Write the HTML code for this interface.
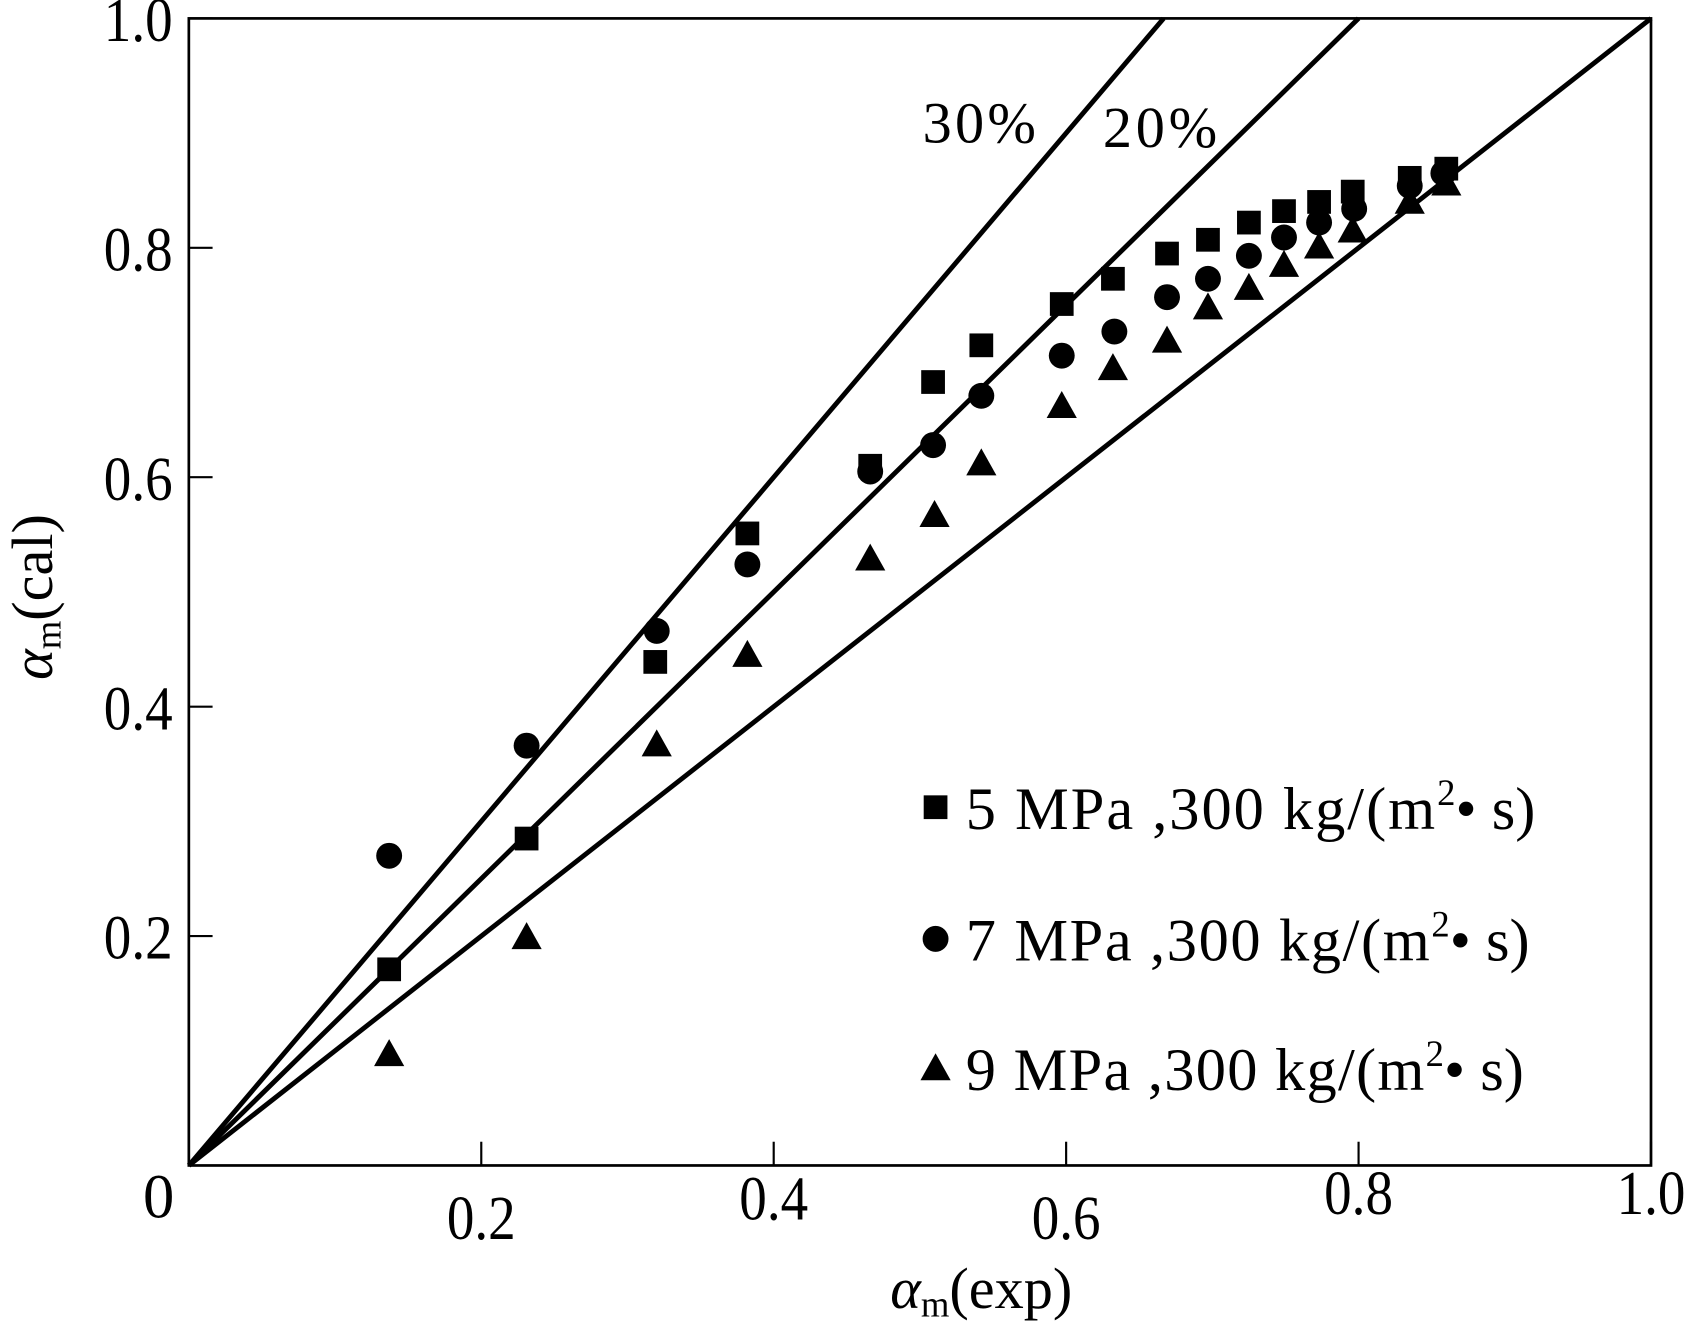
<!DOCTYPE html>
<html><head><meta charset="utf-8"><style>
html,body{margin:0;padding:0;background:#fff;}
svg{display:block;}
text{font-family:"Liberation Serif",serif;fill:#000;}
</style></head><body>
<svg id="chart" width="1692" height="1322" viewBox="0 0 1568 1225" xmlns="http://www.w3.org/2000/svg">
<g id="frame"></g><g id="lines"></g><g id="marks"></g><g id="labels"></g>
</svg>
<script>
const xTicks=[0.2,0.4,0.6,0.8,1.0];
const xTickLabels=["0.2","0.4","0.6","0.8","1.0"];
const yTicks=[0.2,0.4,0.6,0.8,1.0];
const yTickLabels=["0.2","0.4","0.6","0.8","1.0"];
const refSlopes=[1.5,1.25,1.0];
const refLabels=["30%","20%",""];
const exp5=[0.137,0.231,0.319,0.382,0.466,0.509,0.542,0.597,0.632,0.669,0.697,0.725,0.749,0.773,0.796,0.835,0.860];
const cal5=[0.171,0.285,0.439,0.551,0.610,0.683,0.715,0.751,0.773,0.795,0.807,0.822,0.832,0.840,0.849,0.861,0.869];
const exp7=[0.137,0.231,0.320,0.382,0.466,0.509,0.542,0.597,0.633,0.669,0.697,0.725,0.749,0.773,0.797,0.835,0.858];
const cal7=[0.270,0.366,0.466,0.524,0.605,0.628,0.671,0.706,0.727,0.757,0.773,0.793,0.809,0.822,0.834,0.854,0.865];
const exp9=[0.137,0.231,0.320,0.382,0.466,0.510,0.542,0.597,0.632,0.669,0.697,0.725,0.749,0.773,0.796,0.835,0.860];
const cal9=[0.097,0.199,0.367,0.445,0.529,0.567,0.612,0.662,0.695,0.719,0.748,0.765,0.785,0.801,0.815,0.840,0.856];

const NS="http://www.w3.org/2000/svg";
const L=175,R=1530,T=17,B=1080;
const sx=v=>L+v*(R-L), sy=v=>B-v*(B-T);
function mk(tag,attrs,parent){const e=document.createElementNS(NS,tag);for(const k in attrs)e.setAttribute(k,attrs[k]);document.getElementById(parent).appendChild(e);return e;}

let f=mk('rect',{x:L,y:T,width:R-L,height:B-T,fill:'none',stroke:'#000','stroke-width':2.5},'frame');


xTicks.forEach((t,i)=>{
  let tk=mk('line',{x1:sx(t),x2:sx(t),y1:B,y2:B-22,stroke:'#000','stroke-width':2},'frame');
  
  
  const base=[1148,1130,1148,1125,1125][i];
  let tx=mk('text',{x:sx(t),y:base,'font-size':58,'text-anchor':'middle',transform:`translate(${sx(t)},0) scale(0.88,1) translate(${-sx(t)},0)`},'labels');
  tx.textContent=xTickLabels[i];
  
  
});
yTicks.forEach((t,i)=>{
  let tk=mk('line',{x1:L,x2:L+22,y1:sy(t),y2:sy(t),stroke:'#000','stroke-width':2},'frame');
  
  
  let tx=mk('text',{x:160,y:sy(t)+21,'font-size':58,'text-anchor':'end',transform:`translate(160,0) scale(0.88,1) translate(-160,0)`},'labels');
  tx.textContent=yTickLabels[i];
  
  
});
let z=mk('text',{x:147,y:1128,'font-size':58,'text-anchor':'middle'},'labels');
z.textContent='0';



refSlopes.forEach((s,i)=>{
  const xe=Math.min(1,1/s);
  let ln=mk('line',{x1:sx(0),y1:sy(0),x2:sx(xe),y2:sy(xe*s),stroke:'#000','stroke-width':4.5},'lines');
  
  
});
let l30=mk('text',{x:855,y:132,'font-size':54,textLength:105},'labels');l30.textContent='30%';


let l20=mk('text',{x:1022,y:136,'font-size':54,textLength:106},'labels');l20.textContent='20%';



function square(cx,cy){return mk('rect',{x:cx-11,y:cy-11,width:22,height:22,fill:'#000'},'marks');}
function circle(cx,cy){return mk('circle',{cx:cx,cy:cy,r:12,fill:'#000'},'marks');}
function tri(cx,cy){return mk('polygon',{points:`${cx},${cy-14} ${cx-14},${cy+11} ${cx+14},${cy+11}`,fill:'#000'},'marks');}
exp5.forEach((v,i)=>{const e=square(sx(v),sy(cal5[i]));
  
  });
exp7.forEach((v,i)=>{const e=circle(sx(v),sy(cal7[i]));
  
  });
exp9.forEach((v,i)=>{const e=tri(sx(v),sy(cal9[i]));
  
  });

const legY=[748,870,990];
const legTxt=['5 MPa ,300 kg/(m','7 MPa ,300 kg/(m','9 MPa ,300 kg/(m'];
const legEnd=[1440,1435,1430];
const legFn=[square,circle,tri];
legY.forEach((y,i)=>{
  const m=legFn[i](867,y);
  
  
  const t=mk('text',{x:895,y:y+20,'font-size':56},'labels');
  const a=document.createElementNS(NS,'tspan');a.textContent=legTxt[i];a.setAttribute('textLength',legEnd[i]-895-110);t.appendChild(a);
  const b=document.createElementNS(NS,'tspan');b.textContent='2';b.setAttribute('font-size','34');b.setAttribute('dy','-22');t.appendChild(b);
  const c=document.createElementNS(NS,'tspan');c.textContent='• s)';c.setAttribute('dy','22');t.appendChild(c);
  
  
});

let xt=mk('text',{x:825,y:1212,'font-size':54},'labels');
xt.innerHTML='<tspan font-style="italic">α</tspan><tspan font-size="34" dy="8">m</tspan><tspan dy="-8">(exp)</tspan>';


let yt=mk('text',{x:0,y:0,'font-size':54,transform:'translate(48,630) rotate(-90)'},'labels');
yt.innerHTML='<tspan font-style="italic">α</tspan><tspan font-size="34" dy="8">m</tspan><tspan dy="-8">(cal)</tspan>';


</script>
</body></html>
